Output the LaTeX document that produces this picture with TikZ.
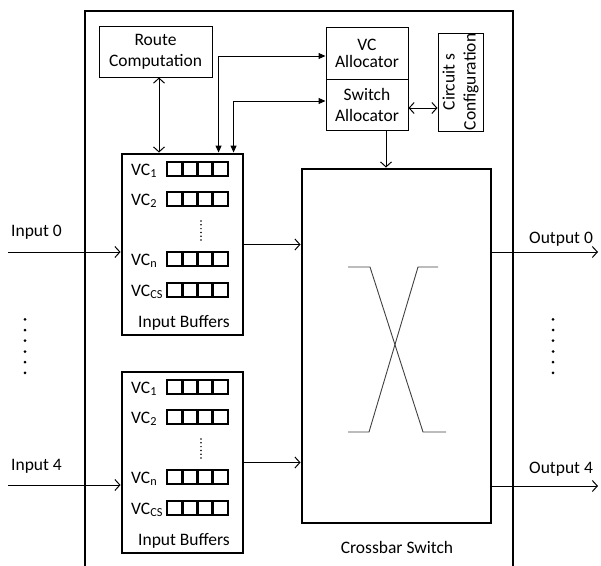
\documentclass[tikz,border=0pt]{standalone}
\usepackage{fontspec}
\setmainfont{Carlito}
\usetikzlibrary{arrows.meta}
\begin{document}
\begin{tikzpicture}[x=1pt,y=-1pt,
  font=\fontsize{17.5}{21}\selectfont,
  thinbox/.style={draw, line width=1pt, inner sep=0pt, align=center},
  heavybox/.style={draw, line width=2.9pt, inner sep=0pt},
  cell/.style={line width=2.8pt},
  conn/.style={line width=1pt},
  openend/.style={conn, -{Straight Barb[length=5pt,width=11pt,line width=1pt]}},
  openboth/.style={conn, {Straight Barb[length=5pt,width=11pt,line width=1pt]}-{Straight Barb[length=5pt,width=11pt,line width=1pt]}},
  solidboth/.style={conn, {Triangle[length=7pt,width=6pt]}-{Triangle[length=7pt,width=6pt]}},
  vclab/.style={anchor=base west, inner sep=0pt},
  lbl/.style={inner sep=0pt},
  xline/.style={line width=0.9pt, draw=black!75}
]
\useasboundingbox (0,0) rectangle (601,565);

% router enclosure (open at the bottom)
\draw[line width=2.9pt] (85,566) -- (85,11) -- (513,11) -- (513,566);

% control blocks
\node[thinbox, minimum width=113pt, minimum height=51pt] (rc) at (155.5,51.5) {Route\\Computation};
\node[thinbox, minimum width=82pt, minimum height=52pt, font=\fontsize{17.5}{17}\selectfont] (vc) at (367,53) {VC\\Allocator};
\node[thinbox, minimum width=82pt, minimum height=51pt] (sa) at (367,104.5) {Switch\\Allocator};
\node[thinbox, rotate=90, minimum width=98pt, minimum height=45pt] (cc) at (460.5,82) {Circuit s\\Configuration};

% input buffers
\node[heavybox, minimum width=121pt, minimum height=181pt] (buf1) at (182.5,244.5) {};
\node[heavybox, minimum width=121pt, minimum height=181pt] (buf2) at (182.5,462.5) {};
\node[lbl, anchor=base] (bl1) at (184,327) {Input Buffers};
\node[lbl, anchor=base] (bl2) at (184,545) {Input Buffers};

\foreach \dy in {0,218} {
  \foreach \ry/\lab in {162/{VC\textsubscript{1}}, 192/{VC\textsubscript{2}}, 252/{VC\textsubscript{n}}, 283/{VC\textsubscript{CS}}} {
    \foreach \i in {0,...,3}
      \draw[cell] ({167+\i*15.25},{\ry+\dy}) rectangle ++(15.25,14);
    \node[vclab] (vc-\dy-\ry) at (131,{\ry+\dy+13}) {\lab};
  }
  \draw[line width=1.7pt, line cap=round, dash pattern=on 0pt off 3.8pt] (201,{221+\dy}) -- (201,{240+\dy});
}

% crossbar
\node[heavybox, minimum width=189pt, minimum height=354pt] (xbar) at (396.5,346) {};
\node[lbl, anchor=base] (xl) at (397,553) {Crossbar Switch};
\draw[xline] (348,267) -- (370,267) -- (423,432) -- (446,432);
\draw[xline] (438,267) -- (418,267) -- (369,432) -- (348,432);

% control connections
\coordinate (rcx) at ([xshift=3.5pt]rc.south);
\draw[openboth] (rcx) -- (rcx |- buf1.north);
\coordinate (t1) at ([xshift=98pt]buf1.north west);
\coordinate (t2) at ([xshift=113pt]buf1.north west);
\draw[solidboth] (t1) |- ([yshift=-3pt]vc.west);
\draw[solidboth] (t2) |- ([yshift=3.5pt]sa.west);
\draw[openboth] ([yshift=-3.5pt]sa.east) -- ([yshift=-3.5pt]sa.east -| cc.north);
\coordinate (sax) at ([xshift=19pt]sa.south);
\draw[openend] (sax) -- (sax |- xbar.north);

% data path
\coordinate (in0) at (8,252);
\coordinate (in4) at (8,485);
\draw[openend] (in0) -- (in0 -| buf1.west);
\draw[openend] (in4) -- (in4 -| buf2.west);
\draw[openend] (buf1.east) -- (buf1.east -| xbar.west);
\draw[openend] (buf2.east) -- (buf2.east -| xbar.west);
\coordinate (out0) at (598,252);
\coordinate (out4) at (598,486);
\draw[openend] (out0 -| xbar.east) -- (out0);
\draw[openend] (out4 -| xbar.east) -- (out4);

\node[lbl, anchor=base west] (lin0) at (11,236) {Input 0};
\node[lbl, anchor=base west] (lin4) at (11,470) {Input 4};
\node[lbl, anchor=base west] (lout0) at (529,243) {Output 0};
\node[lbl, anchor=base west] (lout4) at (529,473) {Output 4};

% port ellipses
\foreach \yy in {319.3,330,340.7,351.5,362.2,372.9} {
  \fill (25,\yy) circle (1.5pt);
  \fill (553,\yy) circle (1.5pt);
}
\end{tikzpicture}
\end{document}
